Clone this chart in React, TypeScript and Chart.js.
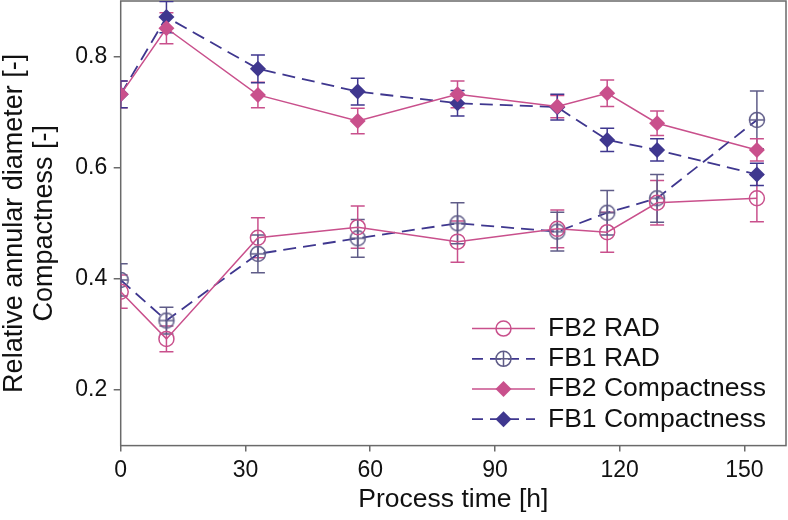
import React, { useEffect, useRef } from 'react';
import { Chart, registerables } from 'chart.js';

Chart.register(...registerables);

// ---- data ----
const times = [0, 11, 33, 57, 81, 105, 117, 129, 153];

const fb2Rad = [0.377, 0.292, 0.474, 0.493, 0.467, 0.490, 0.484, 0.537, 0.545];
const fb2RadErr = [0.030, 0.023, 0.036, 0.038, 0.037, 0.034, 0.036, 0.040, 0.042];

const fb1Rad = [0.398, 0.325, 0.445, 0.473, 0.500, 0.485, 0.519, 0.545, 0.686];
const fb1RadErr = [0.029, 0.024, 0.034, 0.034, 0.037, 0.035, 0.040, 0.043, 0.052];

const fb2Comp = [0.732, 0.851, 0.731, 0.684, 0.732, 0.710, 0.734, 0.680, 0.632];
const fb2CompErr = [0.024, 0.028, 0.023, 0.023, 0.024, 0.020, 0.024, 0.022, 0.020];

const fb1Comp = [0.732, 0.871, 0.778, 0.737, 0.716, 0.709, 0.650, 0.632, 0.588];
const fb1CompErr = [0.024, 0.028, 0.025, 0.024, 0.023, 0.023, 0.021, 0.020, 0.020];

const seriesNames = ['FB2 RAD', 'FB1 RAD', 'FB2 Compactness', 'FB1 Compactness'];
const xTicks = [0, 30, 60, 90, 120, 150];
const yTicks = [0.2, 0.4, 0.6, 0.8];
const xTitle = 'Process time [h]';
const yTitle = ['Relative annular diameter [-]', 'Compactness [-]'];

// ---- styles ----
const FONT = '"Liberation Sans", Arial, Helvetica, sans-serif';
const PINK = '#c9508c';
const NAVY = '#3f378f';
const GREYPURPLE = '#5f5c88';
const AXIS = '#6a6a6a';
const TEXT = '#111111';
const DASH = [13, 7];
const R_CIRCLE = 7.5;
const R_DIAMOND = 8;

type Kind = 'circle' | 'circleCross' | 'diamond';

function drawMarker(ctx: CanvasRenderingContext2D, kind: Kind, x: number, y: number, color: string) {
  ctx.save();
  ctx.setLineDash([]);
  ctx.lineWidth = 1.5;
  ctx.strokeStyle = color;
  ctx.fillStyle = color;
  if (kind === 'diamond') {
    ctx.beginPath();
    ctx.moveTo(x - R_DIAMOND, y);
    ctx.lineTo(x, y - R_DIAMOND);
    ctx.lineTo(x + R_DIAMOND, y);
    ctx.lineTo(x, y + R_DIAMOND);
    ctx.closePath();
    ctx.fill();
  } else {
    ctx.beginPath();
    ctx.arc(x, y, R_CIRCLE, 0, Math.PI * 2);
    ctx.stroke();
    if (kind === 'circleCross') {
      ctx.beginPath();
      ctx.moveTo(x - R_CIRCLE, y);
      ctx.lineTo(x + R_CIRCLE, y);
      ctx.moveTo(x, y - R_CIRCLE);
      ctx.lineTo(x, y + R_CIRCLE);
      ctx.stroke();
    }
  }
  ctx.restore();
}

function makeCircleCross(): HTMLCanvasElement {
  const c = document.createElement('canvas');
  c.width = 20;
  c.height = 20;
  const cx = c.getContext('2d') as CanvasRenderingContext2D;
  drawMarker(cx, 'circleCross', 10, 10, GREYPURPLE);
  return c;
}

interface SeriesStyle {
  name: string;
  values: number[];
  errors: number[];
  line: string;
  dashed: boolean;
  marker: Kind;
  markerColor: string;
  errColor: string;
}

const series: SeriesStyle[] = [
  { name: seriesNames[0], values: fb2Rad, errors: fb2RadErr, line: PINK, dashed: false, marker: 'circle', markerColor: PINK, errColor: PINK },
  { name: seriesNames[1], values: fb1Rad, errors: fb1RadErr, line: NAVY, dashed: true, marker: 'circleCross', markerColor: GREYPURPLE, errColor: GREYPURPLE },
  { name: seriesNames[2], values: fb2Comp, errors: fb2CompErr, line: PINK, dashed: false, marker: 'diamond', markerColor: PINK, errColor: PINK },
  { name: seriesNames[3], values: fb1Comp, errors: fb1CompErr, line: NAVY, dashed: true, marker: 'diamond', markerColor: NAVY, errColor: NAVY },
];

const framePlugin = {
  id: 'frame',
  beforeDatasetsDraw(chart: any) {
    const { ctx, chartArea } = chart;
    ctx.save();
    ctx.strokeStyle = AXIS;
    ctx.lineWidth = 1.5;
    ctx.strokeRect(chartArea.left, chartArea.top, chartArea.right - chartArea.left, chartArea.bottom - chartArea.top);
    ctx.restore();
  },
};

const errorBarPlugin = {
  id: 'errorBars',
  beforeDatasetsDraw(chart: any) {
    const { ctx, chartArea } = chart;
    const xs = chart.scales.x;
    const ys = chart.scales.y;
    ctx.save();
    ctx.beginPath();
    ctx.rect(chartArea.left, chartArea.top, chartArea.right - chartArea.left, chartArea.bottom - chartArea.top + 4);
    ctx.clip();
    ctx.lineWidth = 1.5;
    const cap = 7;
    series.forEach((s) => {
      ctx.strokeStyle = s.errColor;
      s.values.forEach((v, j) => {
        const px = xs.getPixelForValue(times[j]);
        const yt = ys.getPixelForValue(v + s.errors[j]);
        const yb = ys.getPixelForValue(v - s.errors[j]);
        ctx.beginPath();
        ctx.moveTo(px, yt);
        ctx.lineTo(px, yb);
        ctx.moveTo(px - cap, yt);
        ctx.lineTo(px + cap, yt);
        ctx.moveTo(px - cap, yb);
        ctx.lineTo(px + cap, yb);
        ctx.stroke();
      });
    });
    ctx.restore();
  },
};

const legendPlugin = {
  id: 'customLegend',
  afterDraw(chart: any) {
    const { ctx, chartArea } = chart;
    const lineStart = chartArea.right - 314;
    const lineEnd = chartArea.right - 251;
    const markerX = (lineStart + lineEnd) / 2;
    const textX = chartArea.right - 238;
    const firstRow = chartArea.bottom - 117;
    const rowGap = 30.2;
    ctx.save();
    series.forEach((s, i) => {
      const y = firstRow + i * rowGap;
      ctx.save();
      ctx.strokeStyle = s.line;
      ctx.lineWidth = s.dashed ? 1.8 : 1.5;
      ctx.setLineDash(s.dashed ? [11, 7] : []);
      ctx.beginPath();
      ctx.moveTo(lineStart, y);
      ctx.lineTo(lineEnd, y);
      ctx.stroke();
      ctx.restore();
      drawMarker(ctx, s.marker, markerX, y, s.markerColor);
      ctx.fillStyle = TEXT;
      ctx.font = `26.5px ${FONT}`;
      ctx.textAlign = 'left';
      ctx.textBaseline = 'middle';
      ctx.fillText(s.name, textX, y);
    });
    ctx.restore();
  },
};

export default function App() {
  const ref = useRef<HTMLCanvasElement | null>(null);

  useEffect(() => {
    if (!ref.current) return;
    const crossImg = makeCircleCross();
    const datasets = series.map((s) => ({
      label: s.name,
      data: times.map((t, j) => ({ x: t, y: s.values[j] })),
      borderColor: s.line,
      borderWidth: s.dashed ? 1.8 : 1.5,
      borderDash: s.dashed ? DASH : [],
      backgroundColor: s.markerColor,
      pointStyle: s.marker === 'circleCross' ? crossImg : s.marker === 'diamond' ? 'rectRot' : 'circle',
      pointRadius: s.marker === 'diamond' ? R_DIAMOND : R_CIRCLE,
      pointBorderWidth: s.marker === 'diamond' ? 0 : 1.5,
      pointBorderColor: s.markerColor,
      pointBackgroundColor: s.marker === 'diamond' ? s.markerColor : 'rgba(0,0,0,0)',
      tension: 0,
      fill: false,
    }));

    const chart = new Chart(ref.current, {
      type: 'line',
      data: { datasets },
      plugins: [framePlugin, errorBarPlugin, legendPlugin],
      options: {
        animation: false,
        responsive: false,
        maintainAspectRatio: false,
        devicePixelRatio: 1,
        layout: { autoPadding: false, padding: { left: 0, top: 1, right: 2, bottom: 0 } },
        plugins: {
          legend: { display: false },
          tooltip: { enabled: false },
        },
        scales: {
          x: {
            type: 'linear',
            min: 0,
            max: 160,
            afterBuildTicks: (s: any) => {
              s.ticks = xTicks.map((v) => ({ value: v }));
            },
            afterFit: (s: any) => {
              s.height = 74.4;
              s.paddingLeft = 0;
              s.paddingRight = 0;
              s.paddingTop = 0;
              s.paddingBottom = 0;
            },
            grid: { display: true, drawOnChartArea: false, drawTicks: true, tickLength: 6, color: AXIS, lineWidth: 1.5 },
            border: { display: false },
            ticks: {
              color: TEXT,
              font: { family: FONT, size: 23 },
              padding: 5,
              maxRotation: 0,
              autoSkip: false,
              callback: (v: any) => String(v),
            },
            title: {
              display: true,
              text: xTitle,
              color: TEXT,
              font: { family: FONT, size: 26.5 },
              padding: { top: 0, bottom: 4 },
            },
          },
          y: {
            type: 'linear',
            min: 0.1,
            max: 0.9,
            afterBuildTicks: (s: any) => {
              s.ticks = yTicks.map((v) => ({ value: v }));
            },
            afterFit: (s: any) => {
              s.width = 120.7;
              s.paddingLeft = 0;
              s.paddingRight = 0;
              s.paddingTop = 0;
              s.paddingBottom = 0;
            },
            grid: { display: true, drawOnChartArea: false, drawTicks: true, tickLength: 7, color: AXIS, lineWidth: 1.5 },
            border: { display: false },
            ticks: {
              color: TEXT,
              font: { family: FONT, size: 23 },
              padding: 6.5,
              autoSkip: false,
              callback: (v: any) => Number(v).toFixed(1),
            },
            title: {
              display: true,
              text: yTitle,
              color: TEXT,
              font: { family: FONT, size: 27, lineHeight: 1.1 },
              padding: { top: 0, bottom: 0 },
            },
          },
        },
      },
    } as any);

    return () => chart.destroy();
  }, []);

  return (
    <div style={{ position: 'fixed', left: 0, top: 0, width: 788, height: 520, background: '#ffffff' }}>
      <canvas ref={ref} width={788} height={520} style={{ display: 'block', width: 788, height: 520 }} />
    </div>
  );
}
